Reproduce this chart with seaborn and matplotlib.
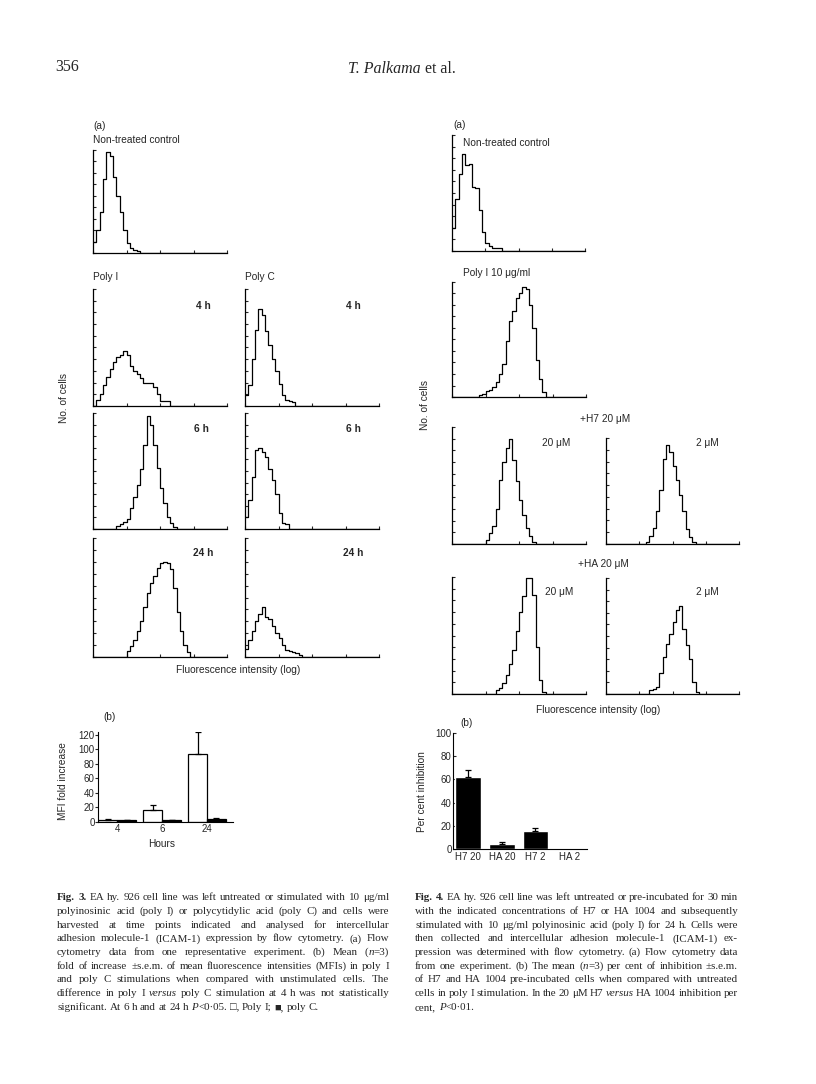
import numpy as np
import pandas as pd
import matplotlib
matplotlib.use('Agg')
import matplotlib.pyplot as plt
import seaborn as sns

W, H = 816, 1084
SANS = ['Liberation Sans', 'DejaVu Sans']
SERIF = ['Liberation Serif', 'DejaVu Serif']

# ---------------- data ----------------
# flow cytometry histograms: counts per 0.1-decade bin, starting at decade 0
BIN_WIDTH = 0.1

fig3_control = [1.0, 2.0, 3.6, 6.5, 8.8, 8.5, 6.6, 5.0, 3.6, 2.0, 0.9, 0.4, 0.3, 0.2]
poly_i_4h = [0, 0.5, 1.0, 1.8, 2.5, 3.2, 3.8, 4.2, 4.4, 4.7, 4.4, 3.4, 3.0, 2.7, 2.4,
             2.0, 2.0, 2.0, 1.6, 1.0, 0.4, 0.4, 0.4]
poly_c_4h = [0.9, 1.8, 4.0, 6.5, 8.3, 7.8, 6.4, 5.2, 4.0, 3.0, 1.9, 0.9, 0.5, 0.4, 0.3]
poly_i_6h = [0, 0, 0, 0, 0, 0, 0, 0.3, 0.4, 0.6, 0.9, 1.8, 2.8, 3.8, 5.2, 7.2, 9.7,
             9.0, 7.2, 5.3, 3.5, 2.2, 1.0, 0.5, 0.2]
poly_c_6h = [1.0, 2.5, 4.5, 6.8, 7.0, 6.6, 6.2, 5.2, 4.2, 3.0, 1.4, 0.5, 0.4]
poly_i_24h = [0, 0, 0, 0, 0, 0, 0, 0, 0, 0, 0.5, 0.9, 1.4, 2.2, 3.0, 4.2, 5.4, 6.2,
              6.8, 7.5, 7.9, 8.0, 7.9, 7.4, 5.8, 3.8, 2.2, 1.0, 0.4]
poly_c_24h = [0.7, 1.4, 2.2, 3.0, 3.6, 4.2, 3.4, 3.2, 2.6, 2.0, 1.6, 1.0, 0.6, 0.5,
              0.4, 0.3, 0.2]

fig4_control = [2.0, 4.5, 6.6, 8.4, 7.4, 7.5, 5.5, 5.4, 3.5, 1.6, 0.7, 0.4, 0.3, 0.3, 0.3]
fig4_poly_i = [0, 0, 0, 0, 0, 0, 0, 0, 0.2, 0.3, 0.5, 0.6, 0.9, 1.3, 2.0, 2.9, 4.9,
               6.6, 7.5, 8.6, 9.0, 9.6, 9.4, 8.0, 6.0, 3.2, 1.6, 0.4]
h7_20 = [0, 0, 0, 0, 0, 0, 0, 0, 0, 0, 0.3, 0.9, 1.5, 3.0, 5.5, 7.0, 8.2, 9.0, 7.2,
         5.4, 3.8, 2.5, 1.4, 0.7, 0.2]
h7_2 = [0, 0, 0, 0, 0, 0, 0, 0, 0, 0, 0, 0, 0.2, 0.7, 1.4, 2.8, 4.6, 7.2, 8.4, 7.8,
        6.6, 5.4, 4.2, 2.8, 1.3, 0.6, 0.2]
ha_20 = [0, 0, 0, 0, 0, 0, 0, 0, 0, 0, 0, 0, 0, 0.3, 0.5, 0.9, 1.6, 2.6, 3.8, 5.4,
         7.0, 8.4, 9.9, 9.9, 8.5, 4.0, 1.2, 0.2]
ha_2 = [0, 0, 0, 0, 0, 0, 0, 0, 0, 0, 0, 0, 0, 0.35, 0.4, 0.6, 1.8, 3.2, 4.3, 5.2,
        6.2, 7.2, 7.6, 5.6, 4.2, 3.0, 1.0, 0.2]

# Fig. 3(b): MFI fold increase
hours = ['4', '6', '24']
poly_i_fold = [3.0, 16.5, 93.5]
poly_i_sem = [1.0, 7.0, 31.0]
poly_c_fold = [2.5, 2.5, 4.5]
poly_c_sem = [0.5, 0.8, 1.0]

# Fig. 4(b): per cent inhibition
inhibitors = ['H7 20', 'HA 20', 'H7 2', 'HA 2']
inhibition = [62.0, 4.0, 15.5, 0.0]
inhibition_sem = [6.5, 2.3, 3.0, 0.0]

caption3 = [
    "**Fig. 3.** EA hy. 926 cell line was left untreated or stimulated with 10 μg/ml",
    "polyinosinic acid (poly I) or polycytidylic acid (poly C) and cells were",
    "harvested at time points indicated and analysed for intercellular",
    "adhesion molecule-1 (ICAM-1) expression by flow cytometry. (a) Flow",
    "cytometry data from one representative experiment. (b) Mean (*n*=3)",
    "fold of increase ±s.e.m. of mean fluorescence intensities (MFIs) in poly I",
    "and poly C stimulations when compared with unstimulated cells. The",
    "difference in poly I *versus* poly C stimulation at 4 h was not statistically",
    "significant. At 6 h and at 24 h *P*<0·05. □, Poly I; ■, poly C.",
]
caption4 = [
    "**Fig. 4.** EA hy. 926 cell line was left untreated or pre-incubated for 30 min",
    "with the indicated concentrations of H7 or HA 1004 and subsequently",
    "stimulated with 10 μg/ml polyinosinic acid (poly I) for 24 h. Cells were",
    "then collected and intercellular adhesion molecule-1 (ICAM-1) ex-",
    "pression was determined with flow cytometry. (a) Flow cytometry data",
    "from one experiment. (b) The mean (*n*=3) per cent of inhibition ±s.e.m.",
    "of H7 and HA 1004 pre-incubated cells when compared with untreated",
    "cells in poly I stimulation. In the 20 μM H7 *versus* HA 1004 inhibition per",
    "cent, *P*<0·01.",
]

# ---------------- layout (pixel boxes: x0, y0, x1, y1, y tick count) ----------------
HIST_PANELS = [
    (fig3_control, (93, 150, 227, 253, 9)),
    (poly_i_4h, (93, 289, 227, 406, 10)),
    (poly_c_4h, (245, 289, 379, 406, 10)),
    (poly_i_6h, (93, 413, 227, 529, 10)),
    (poly_c_6h, (245, 413, 379, 529, 10)),
    (poly_i_24h, (93, 538, 227, 657, 10)),
    (poly_c_24h, (245, 538, 379, 657, 10)),
    (fig4_control, (452, 135, 585, 251, 10)),
    (fig4_poly_i, (452, 282, 586, 397, 10)),
    (h7_20, (452, 427, 586, 544, 10)),
    (h7_2, (606, 438, 739, 544, 9)),
    (ha_20, (452, 577, 586, 694, 10)),
    (ha_2, (606, 578, 739, 694, 10)),
]

LABELS = [
    # x, y, text, extra
    (93, 126, '(a)', {}),
    (93, 140, 'Non-treated control', {}),
    (93, 277, 'Poly I', {}),
    (245, 277, 'Poly C', {}),
    (203, 306, '4 h', {'ha': 'center', 'fontweight': 'bold'}),
    (353, 306, '4 h', {'ha': 'center', 'fontweight': 'bold'}),
    (201, 429, '6 h', {'ha': 'center', 'fontweight': 'bold'}),
    (353, 429, '6 h', {'ha': 'center', 'fontweight': 'bold'}),
    (203, 553, '24 h', {'ha': 'center', 'fontweight': 'bold'}),
    (353, 553, '24 h', {'ha': 'center', 'fontweight': 'bold'}),
    (238, 670, 'Fluorescence intensity (log)', {'ha': 'center'}),
    (64, 398, 'No. of cells', {'ha': 'center', 'rotation': 90}),
    (103, 717, '(b)', {}),
    (63, 781, 'MFI fold increase', {'ha': 'center', 'rotation': 90}),
    (162, 844, 'Hours', {'ha': 'center'}),
    (453, 125, '(a)', {}),
    (463, 143, 'Non-treated control', {}),
    (463, 273, 'Poly I 10 μg/ml', {}),
    (425, 405, 'No. of cells', {'ha': 'center', 'rotation': 90}),
    (605, 419, '+H7 20 μM', {'ha': 'center'}),
    (556, 443, '20 μM', {'ha': 'center'}),
    (707, 443, '2 μM', {'ha': 'center'}),
    (603, 564, '+HA 20 μM', {'ha': 'center'}),
    (559, 592, '20 μM', {'ha': 'center'}),
    (707, 592, '2 μM', {'ha': 'center'}),
    (598, 710, 'Fluorescence intensity (log)', {'ha': 'center'}),
    (460, 723, '(b)', {}),
    (422, 792, 'Per cent inhibition', {'ha': 'center', 'rotation': 90}),
]


def px_axes(fig, x0, y0, x1, y1):
    return fig.add_axes([x0 / W, 1 - y1 / H, (x1 - x0) / W, (y1 - y0) / H])


def put(fig, x, y, s, **kw):
    opts = dict(family=SANS, fontsize=7.3, va='center', ha='left')
    opts.update(kw)
    return fig.text(x / W, 1 - y / H, s, **opts)


def flow_panel(fig, counts, box):
    x0, y0, x1, y1, nticks = box
    ax = px_axes(fig, x0, y0, x1, y1)
    centers = np.arange(len(counts)) * BIN_WIDTH + BIN_WIDTH / 2
    sns.histplot(x=centers, weights=counts, binwidth=BIN_WIDTH, binrange=(0, 4),
                 element='step', fill=False, color='black', linewidth=0.9, ax=ax)
    ax.set_xlim(0, 4)
    ax.set_ylim(0, nticks)
    ax.set_xticks(range(5))
    ax.set_yticks(range(nticks + 1))
    ax.tick_params(direction='in', length=2.5, width=0.8,
                   labelbottom=False, labelleft=False)
    for side in ['top', 'right']:
        ax.spines[side].set_visible(False)
    for side in ['left', 'bottom']:
        ax.spines[side].set_linewidth(0.9)
    ax.set(xlabel='', ylabel='')
    ax.patch.set_alpha(0)
    return ax


def add_sem(ax, container, errs):
    # one-sided s.e.m. bars on top of each drawn bar
    for bar, e in zip(container, errs):
        if e <= 0:
            continue
        x = bar.get_x() + bar.get_width() / 2
        ax.errorbar(x, bar.get_height(), yerr=[[0], [e]], fmt='none',
                    ecolor='black', elinewidth=0.9, capsize=2.5, capthick=0.9)


def parse_line(line):
    # ** toggles bold, * toggles italic; spaces split words
    words = [[]]
    style = 'n'
    buf = ''
    i = 0
    while i < len(line):
        if line.startswith('**', i):
            if buf:
                words[-1].append((buf, style))
                buf = ''
            style = 'n' if style == 'b' else 'b'
            i += 2
            continue
        ch = line[i]
        if ch == '*':
            if buf:
                words[-1].append((buf, style))
                buf = ''
            style = 'n' if style == 'i' else 'i'
        elif ch == ' ':
            if buf:
                words[-1].append((buf, style))
                buf = ''
            words.append([])
        else:
            buf += ch
        i += 1
    if buf:
        words[-1].append((buf, style))
    return [w for w in words if w]


def draw_caption(fig, lines, x0, x1, y_first, step, size):
    renderer = fig.canvas.get_renderer()
    probe = fig.text(0, 0, 'a a', family=SERIF, fontsize=size)
    probe2 = fig.text(0, 0, 'aa', family=SERIF, fontsize=size)
    space = (probe.get_window_extent(renderer).width
             - probe2.get_window_extent(renderer).width)
    probe.remove()
    probe2.remove()
    for k, line in enumerate(lines):
        words = parse_line(line)
        placed = []
        widths = []
        for word in words:
            pieces = []
            total = 0
            for txt, st in word:
                t = fig.text(0, 0, txt, family=SERIF, fontsize=size, va='baseline',
                             fontweight='bold' if st == 'b' else 'normal',
                             fontstyle='italic' if st == 'i' else 'normal')
                pw = t.get_window_extent(renderer).width
                pieces.append((t, pw))
                total += pw
            placed.append(pieces)
            widths.append(total)
        last = k == len(lines) - 1
        gap = space if last else (x1 - x0 - sum(widths)) / max(len(words) - 1, 1)
        gap = max(gap, space * 0.6)
        x = x0
        y = y_first + k * step + 3
        for pieces in placed:
            for t, pw in pieces:
                t.set_position((x / W, 1 - y / H))
                x += pw
            x += gap


sns.set_style('ticks')
plt.rcParams['font.family'] = SANS
plt.rcParams['axes.edgecolor'] = 'black'

fig = plt.figure(figsize=(W / 100, H / 100), dpi=100)
fig.patch.set_facecolor('white')

# running head
put(fig, 55, 67, '356', family=SERIF, fontsize=11.5)
head = put(fig, 348, 69, 'T. Palkama', family=SERIF, fontsize=11.5, fontstyle='italic')
rend = fig.canvas.get_renderer()
hw = head.get_window_extent(rend).width
put(fig, 348 + hw + 4, 69, 'et al.', family=SERIF, fontsize=11.5)

# flow cytometry histograms
for counts, box in HIST_PANELS:
    flow_panel(fig, counts, box)

for x, y, s, kw in LABELS:
    put(fig, x, y, s, **kw)

# Fig. 3(b) bar chart
df3 = pd.DataFrame({
    'Hours': hours + hours,
    'MFI': poly_i_fold + poly_c_fold,
    'Treatment': ['Poly I'] * 3 + ['Poly C'] * 3,
})
ax3 = px_axes(fig, 98, 732, 233, 822)
sns.barplot(data=df3, x='Hours', y='MFI', hue='Treatment', order=hours,
            hue_order=['Poly I', 'Poly C'], palette=['white', 'black'],
            edgecolor='black', linewidth=0.9, width=0.84, saturation=1,
            errorbar=None, legend=False, ax=ax3)
for cont, errs in zip(ax3.containers, [poly_i_sem, poly_c_sem]):
    add_sem(ax3, cont, errs)
ax3.set_xlim(-0.43, 2.58)
ax3.set_ylim(0, 124)
ax3.set_yticks(range(0, 121, 20))
ax3.tick_params(axis='y', direction='out', length=2, width=0.8, pad=0.5, labelsize=7)
ax3.tick_params(axis='x', length=0, pad=1.5, labelsize=7)
for side in ['top', 'right']:
    ax3.spines[side].set_visible(False)
ax3.set(xlabel='', ylabel='')
ax3.patch.set_alpha(0)

# Fig. 4(b) bar chart
ax4 = px_axes(fig, 453, 733, 587, 849)
sns.barplot(x=inhibitors, y=inhibition, color='black', width=0.77, saturation=1,
            errorbar=None, ax=ax4)
add_sem(ax4, ax4.containers[0], inhibition_sem)
ax4.set_xlim(-0.45, 3.53)
ax4.set_ylim(0, 100)
ax4.set_yticks(range(0, 101, 20))
ax4.tick_params(axis='y', direction='in', length=2.5, width=0.8, pad=1, labelsize=7)
ax4.tick_params(axis='x', length=0, pad=2, labelsize=7)
for side in ['top', 'right']:
    ax4.spines[side].set_visible(False)
ax4.set(xlabel='', ylabel='')
ax4.patch.set_alpha(0)

# captions
draw_caption(fig, caption3, 57, 389, 897, 13.75, 7.9)
draw_caption(fig, caption4, 415, 738, 897, 13.75, 7.9)

fig.savefig('out.png', dpi=100, facecolor='white')
